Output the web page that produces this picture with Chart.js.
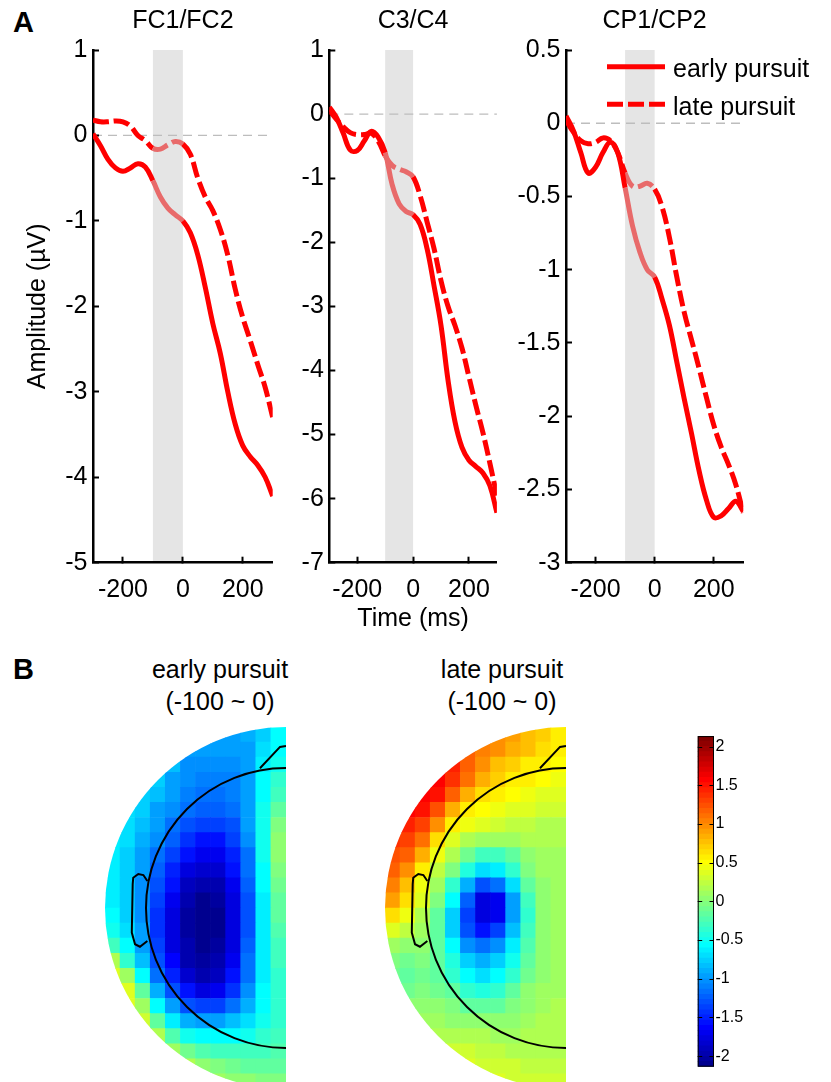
<!DOCTYPE html>
<html><head><meta charset="utf-8">
<script src="https://cdn.jsdelivr.net/npm/chart.js@4.4.1/dist/chart.umd.min.js"></script>
<style>
html,body{margin:0;padding:0;background:#fff;overflow:hidden;width:831px;height:1082px;}
canvas{position:absolute;}
.lbl{position:absolute;font-family:"Liberation Sans",Arial,sans-serif;color:#000;white-space:nowrap;}
.ttl{font-size:25px;line-height:31.7px;text-align:center;width:300px;}
</style></head><body>
<div class="lbl" style="left:13px;top:8px;font-size:29px;font-weight:bold;line-height:29px">A</div>
<div class="lbl" style="left:13px;top:655px;font-size:29px;font-weight:bold;line-height:29px">B</div>
<div class="lbl ttl" style="left:70px;top:654px">early pursuit<br>(-100 ~ 0)</div>
<div class="lbl ttl" style="left:352px;top:654px">late pursuit<br>(-100 ~ 0)</div>
<canvas id="c1" width="290" height="640" style="left:0;top:0"></canvas>
<canvas id="c2" width="220" height="640" style="left:290px;top:0"></canvas>
<canvas id="c3" width="321" height="640" style="left:510px;top:0"></canvas>
<canvas id="m1" width="190" height="375" style="left:100px;top:720px"></canvas>
<canvas id="m2" width="190" height="375" style="left:380px;top:720px"></canvas>
<canvas id="cb" width="141" height="357" style="left:690px;top:725px"></canvas>
<script>
// ---------- DATA ----------
const timeMs = [-300,-275,-250,-225,-200,-175,-150,-125,-100,-75,-50,-25,0,25,50,75,100,125,150,175,200,225,250,275,300];
const fcEarly = [0.02,-0.12,-0.28,-0.38,-0.42,-0.38,-0.33,-0.37,-0.53,-0.72,-0.85,-0.93,-1.0,-1.14,-1.4,-1.78,-2.2,-2.55,-3.0,-3.38,-3.63,-3.76,-3.86,-4.0,-4.22];
const fcLate  = [0.18,0.16,0.16,0.17,0.16,0.11,0.0,-0.06,-0.15,-0.16,-0.11,-0.07,-0.1,-0.22,-0.5,-0.72,-0.88,-1.1,-1.4,-1.8,-2.13,-2.4,-2.68,-2.95,-3.3];
const c3Early = [0.11,-0.05,-0.3,-0.56,-0.57,-0.42,-0.27,-0.36,-0.6,-1.1,-1.4,-1.52,-1.57,-1.72,-2.1,-2.68,-3.3,-4.15,-4.8,-5.2,-5.4,-5.5,-5.6,-5.8,-6.22];
const c3Late  = [0.06,-0.08,-0.2,-0.29,-0.32,-0.32,-0.3,-0.42,-0.65,-0.8,-0.86,-0.9,-0.98,-1.27,-1.68,-2.1,-2.6,-3.0,-3.3,-3.65,-4.1,-4.55,-4.97,-5.45,-5.95];
const cpEarly = [0.05,-0.05,-0.2,-0.34,-0.3,-0.2,-0.13,-0.2,-0.44,-0.7,-0.88,-1.0,-1.05,-1.2,-1.38,-1.63,-1.88,-2.12,-2.37,-2.57,-2.69,-2.68,-2.63,-2.58,-2.65];
const cpLate  = [0.02,-0.06,-0.12,-0.14,-0.13,-0.1,-0.12,-0.2,-0.34,-0.43,-0.43,-0.41,-0.45,-0.57,-0.78,-1.05,-1.29,-1.48,-1.67,-1.87,-2.06,-2.21,-2.33,-2.47,-2.66];
const seriesLabels = ['early pursuit','late pursuit'];
const channelTitles = ['FC1/FC2','C3/C4','CP1/CP2'];
const xTickValues = [-200,0,200];
const xRange = [-300,300];
const bandMs = [-100,0];
const fcY = [-5,1,1], c3Y = [-7,1,1], cpY = [-3,0.5,0.5];   // min, max, step

const N = null;
// topographic maps: 24 rows (top->bottom) x 12 columns (left edge -> midline), µV
const mapEarly = [
[N,N,N,N,N,N,N,-0.95,-0.95,-0.9,-0.75,-0.6],
[N,N,N,N,N,-0.95,-1.0,-1.0,-1.0,-0.95,-0.7,-0.55],
[N,N,N,N,-0.85,-1.05,-1.05,-1.05,-1.05,-1.0,-0.65,-0.5],
[N,N,N,-0.8,-0.95,-1.05,-1.1,-1.1,-1.1,-1.0,-0.6,-0.4],
[N,N,-0.75,-0.85,-1.0,-1.1,-1.15,-1.15,-1.1,-0.95,-0.55,-0.3],
[N,-0.7,-0.8,-0.95,-1.05,-1.2,-1.25,-1.25,-1.15,-0.95,-0.5,-0.15],
[-0.65,-0.72,-0.85,-1.0,-1.15,-1.3,-1.4,-1.4,-1.3,-1.0,-0.5,-0.05],
[-0.65,-0.72,-0.9,-1.05,-1.25,-1.45,-1.55,-1.55,-1.4,-1.05,-0.5,0.0],
[-0.65,-0.75,-0.95,-1.15,-1.35,-1.6,-1.7,-1.7,-1.5,-1.15,-0.5,0.0],
[-0.65,-0.75,-1.0,-1.25,-1.5,-1.75,-1.85,-1.85,-1.6,-1.2,-0.55,-0.05],
[-0.65,-0.75,-1.05,-1.3,-1.6,-1.9,-2.0,-1.95,-1.7,-1.25,-0.6,-0.1],
[-0.65,-0.75,-1.05,-1.4,-1.7,-2.0,-2.1,-2.05,-1.75,-1.3,-0.65,-0.15],
[-0.6,-0.75,-1.05,-1.45,-1.8,-2.05,-2.15,-2.1,-1.8,-1.3,-0.65,-0.2],
[-0.5,-0.7,-1.0,-1.45,-1.8,-2.05,-2.15,-2.1,-1.8,-1.3,-0.65,-0.25],
[-0.3,-0.6,-0.95,-1.4,-1.75,-2.0,-2.1,-2.05,-1.75,-1.25,-0.65,-0.3],
[0.2,-0.35,-0.85,-1.3,-1.65,-1.95,-2.05,-2.0,-1.7,-1.2,-0.65,-0.3],
[0.4,0.1,-0.6,-1.15,-1.5,-1.85,-1.95,-1.9,-1.6,-1.15,-0.65,-0.35],
[N,0.35,-0.2,-0.9,-1.3,-1.6,-1.75,-1.7,-1.45,-1.05,-0.6,-0.35],
[N,0.4,0.1,-0.55,-1.0,-1.3,-1.4,-1.35,-1.2,-0.9,-0.55,-0.35],
[N,N,0.3,-0.2,-0.65,-0.9,-1.0,-0.95,-0.85,-0.7,-0.5,-0.35],
[N,N,N,0.15,-0.25,-0.5,-0.6,-0.6,-0.55,-0.5,-0.4,-0.3],
[N,N,N,N,0.1,-0.1,-0.25,-0.3,-0.3,-0.3,-0.3,-0.25],
[N,N,N,N,N,0.15,0.05,-0.05,-0.1,-0.15,-0.15,-0.15],
[N,N,N,N,N,N,N,0.1,0.05,0.0,-0.05,-0.05]
];
const mapLate = [
[N,N,N,N,N,N,N,1.0,0.9,0.8,0.7,0.6],
[N,N,N,N,N,1.15,1.05,0.95,0.85,0.75,0.65,0.55],
[N,N,N,N,1.45,1.2,0.95,0.8,0.7,0.6,0.55,0.5],
[N,N,N,1.55,1.4,1.1,0.85,0.7,0.6,0.55,0.5,0.45],
[N,N,1.6,1.5,1.2,0.85,0.65,0.55,0.5,0.45,0.4,0.4],
[N,1.55,1.5,1.25,0.85,0.6,0.5,0.45,0.4,0.35,0.3,0.3],
[1.45,1.45,1.3,0.95,0.6,0.45,0.35,0.3,0.25,0.25,0.2,0.2],
[1.35,1.3,1.1,0.65,0.35,0.2,0.1,0.1,0.12,0.15,0.15,0.15],
[1.25,1.15,0.85,0.45,0.15,-0.1,-0.3,-0.3,-0.15,0.05,0.1,0.1],
[1.15,0.95,0.6,0.25,-0.05,-0.45,-0.7,-0.65,-0.4,-0.05,0.08,0.1],
[1.05,0.8,0.45,0.1,-0.35,-0.9,-1.3,-1.2,-0.7,-0.2,0.05,0.1],
[0.9,0.65,0.35,-0.05,-0.6,-1.25,-1.75,-1.7,-0.95,-0.3,0.0,0.1],
[0.65,0.45,0.2,-0.15,-0.75,-1.35,-1.8,-1.7,-1.0,-0.35,0.0,0.08],
[0.35,0.25,0.1,-0.2,-0.75,-1.3,-1.55,-1.4,-0.85,-0.3,0.0,0.08],
[0.1,0.05,0.0,-0.2,-0.6,-1.05,-1.2,-1.05,-0.65,-0.25,0.0,0.08],
[-0.05,-0.1,-0.05,-0.2,-0.45,-0.8,-0.9,-0.8,-0.5,-0.15,0.05,0.1],
[-0.1,-0.15,-0.1,-0.15,-0.35,-0.6,-0.7,-0.6,-0.35,-0.1,0.05,0.1],
[N,-0.1,-0.05,-0.1,-0.2,-0.35,-0.45,-0.35,-0.2,0.0,0.1,0.12],
[N,0.0,0.0,0.0,-0.05,-0.15,-0.2,-0.15,-0.05,0.05,0.12,0.15],
[N,N,0.1,0.1,0.05,0.05,0.0,0.0,0.05,0.1,0.15,0.15],
[N,N,N,0.2,0.2,0.15,0.15,0.12,0.12,0.15,0.15,0.18],
[N,N,N,N,0.3,0.28,0.25,0.22,0.2,0.2,0.2,0.2],
[N,N,N,N,N,0.35,0.32,0.3,0.28,0.25,0.25,0.25],
[N,N,N,N,N,N,N,0.35,0.33,0.3,0.3,0.3]
];
const cbRange = [-2.137, 2.137];
const cbTicks = [-2,-1.5,-1,-0.5,0,0.5,1,1.5,2];
const cbLevels = 64;
// head outline (unit = map radius, centre of head at 0,0)
const headRadius = 0.7735;
const noseOutline = [[-0.144,0.772],[-0.033,0.890],[0,0.895]];
const earOutline = [[-0.766,0.149],[-0.788,0.182],[-0.816,0.188],[-0.844,0.167],[-0.847,0.131],[-0.852,-0.136],[-0.834,-0.2],[-0.807,-0.214],[-0.766,-0.182]];

// ---------- HELPERS ----------
const FONT = '"Liberation Sans", Arial, Helvetica, sans-serif';
Chart.defaults.font.family = FONT;
Chart.defaults.font.size = 25;
Chart.defaults.color = '#000';
const fmt = v => String(Math.round(v*1000)/1000);

function jetRGB(k){ // MATLAB jet(64), 0-based row
  const m = cbLevels, n = Math.ceil(m/4), u = [];
  for (let i=1;i<=n;i++) u.push(i/n);
  for (let i=0;i<n-1;i++) u.push(1);
  for (let i=n;i>=1;i--) u.push(i/n);
  const g0 = Math.ceil(n/2) - (m%4===1?1:0), R = k+1;
  const pick = i => (i>=1 && i<=u.length) ? u[i-1] : 0;
  return [pick(R-g0-n), pick(R-g0), pick(R-g0+n)].map(c=>Math.round(c*255));
}
function levelOf(v){
  let k = Math.floor((v-cbRange[0])/(cbRange[1]-cbRange[0])*cbLevels);
  return Math.max(0, Math.min(cbLevels-1, k));
}
function jetCss(k){ const c = jetRGB(k); return `rgb(${c[0]},${c[1]},${c[2]})`; }

const bandPlugin = {
  id:'band',
  beforeDraw(chart){
    const {ctx, chartArea:a, scales:{x,y}} = chart;
    ctx.save();
    const x0 = x.getPixelForValue(bandMs[0]), x1 = x.getPixelForValue(bandMs[1]);
    ctx.fillStyle = '#e5e5e5';
    ctx.fillRect(x0, a.top, x1-x0, a.bottom-a.top);
    const y0 = y.getPixelForValue(0);
    ctx.strokeStyle = '#bdbdbd'; ctx.lineWidth = 1.3; ctx.setLineDash([9,6]);
    ctx.beginPath(); ctx.moveTo(a.left, y0); ctx.lineTo(a.right, y0); ctx.stroke();
    ctx.restore();
  }
};
const legendPlugin = {
  id:'legendBox',
  afterDraw(chart, args, o){
    if (!o.show) return;
    const ctx = chart.ctx;
    ctx.save();
    chart.data.datasets.forEach((ds,i)=>{
      const ly = o.lineY[i];
      ctx.strokeStyle = ds.borderColor; ctx.lineWidth = ds.borderWidth;
      ctx.setLineDash(ds.borderDash || []);
      ctx.beginPath(); ctx.moveTo(o.x0, ly); ctx.lineTo(o.x1, ly); ctx.stroke();
      ctx.setLineDash([]);
      ctx.fillStyle = '#000'; ctx.font = '25px ' + FONT; ctx.textBaseline = 'alphabetic'; ctx.textAlign='left';
      ctx.fillText(ds.label, o.textX, o.textY[i]);
    });
    ctx.restore();
  }
};

function makeLine(id, o){
  const ds = (label, vals, dash) => ({
    label, data: timeMs.map((t,i)=>({x:t, y:vals[i]})),
    borderColor:'#ff0000', borderWidth:5, borderDash:dash, pointRadius:0, tension:0.4, fill:false,
    segment:{ borderColor: c => (c.p0.parsed.x >= bandMs[0] && c.p1.parsed.x <= bandMs[1]) ? '#e86a6a' : '#ff0000' }
  });
  const gridOpt = {drawOnChartArea:false, tickLength:-6, tickWidth:2, tickColor:'#000'};
  const borderOpt = {display:true, color:'#000', width:2.5};
  return new Chart(document.getElementById(id), {
    type:'line',
    data:{datasets:[ds(seriesLabels[0], o.early, []), ds(seriesLabels[1], o.late, [16,5])]},
    options:{
      responsive:false, animation:false, events:[],
      layout:{padding:{top:0,left:0,bottom:0,right:o.padRight}},
      plugins:{
        legend:{display:false}, tooltip:{enabled:false},
        title:{display:true, text:o.title, fullSize:false, color:'#000', font:{size:25, weight:'normal'}, padding:{top:6.5,bottom:13.5}},
        legendBox:o.legend || {show:false}
      },
      scales:{
        x:{type:'linear', min:xRange[0], max:xRange[1],
           afterBuildTicks:s=>{ s.ticks = xTickValues.map(v=>({value:v})); },
           afterFit:s=>{ s.height = 77.3; },
           ticks:{font:{size:25}, padding:18, color:'#000', maxRotation:0, callback:fmt},
           grid:gridOpt, border:borderOpt,
           title: o.xTitle ? {display:true, text:o.xTitle, color:'#000', font:{size:25}, padding:{top:0,bottom:5.5}} : {display:false}},
        y:{type:'linear', min:o.y[0], max:o.y[1],
           ticks:{stepSize:o.y[2], font:{size:25}, padding:11.5, color:'#000', callback:fmt},
           afterFit:s=>{ s.width = o.yAxisW; },
           grid:gridOpt, border:borderOpt,
           title: o.yTitle ? {display:true, text:o.yTitle, color:'#000', font:{size:25}, padding:{top:23,bottom:0}} : {display:false}}
      }
    },
    plugins:[bandPlugin, legendPlugin]
  });
}

makeLine('c1', {title:channelTitles[0], early:fcEarly, late:fcLate, y:fcY, yAxisW:93, padRight:17.3, yTitle:'Amplitude (µV)'});
makeLine('c2', {title:channelTitles[1], early:c3Early, late:c3Late, y:c3Y, yAxisW:39.3, padRight:1.7, xTitle:'Time (ms)'});
makeLine('c3', {title:channelTitles[2], early:cpEarly, late:cpLate, y:cpY, yAxisW:56, padRight:87.7,
  legend:{show:true, x0:97, x1:155, lineY:[66.7,104.3], textX:163, textY:[77.3,115]}});

// ---------- TOPO MAPS ----------
const topoPlugin = {
  id:'topo',
  beforeDatasetDraw(chart, args){
    if (args.index !== 0) return;
    const {ctx, scales:{x,y}} = chart;
    const cx = x.getPixelForValue(0), cy = y.getPixelForValue(0), r = x.getPixelForValue(1)-cx;
    ctx.save(); ctx.beginPath(); ctx.arc(cx, cy, r, 0, Math.PI*2); ctx.clip();
  },
  afterDatasetDraw(chart, args){ if (args.index === 0) chart.ctx.restore(); },
  afterDatasetsDraw(chart){
    const {ctx, scales:{x,y}} = chart;
    const cx = x.getPixelForValue(0), cy = y.getPixelForValue(0), r = x.getPixelForValue(headRadius)-cx;
    ctx.save(); ctx.strokeStyle='#000'; ctx.lineWidth=2;
    ctx.beginPath(); ctx.arc(cx, cy, r, Math.PI/2, Math.PI*1.5); ctx.stroke();
    ctx.restore();
  }
};
function makeTopo(id, grid){
  const step = 1/grid[0].length;
  const pts = [];
  grid.forEach((row,j)=>row.forEach((v,i)=>{ if (v!==null) pts.push({x:-1+(i+0.5)*step, y:1-(j+0.5)*step, v}); }));
  const rad = c => { const s = c.chart.scales && c.chart.scales.x; return s ? (s.getPixelForValue(step)-s.getPixelForValue(0))*0.74 : 11; };
  const outline = arr => ({data:arr.map(p=>({x:p[0], y:p[1]})), showLine:true, pointRadius:0, borderColor:'#000', borderWidth:2, tension:0, fill:false, order:0});
  return new Chart(document.getElementById(id), {
    type:'scatter',
    data:{datasets:[
      {data:pts, pointStyle:'rect', pointRadius:rad, pointHoverRadius:rad, pointBorderWidth:0, borderWidth:0, order:5,
       backgroundColor: c => c.raw ? jetCss(levelOf(c.raw.v)) : '#fff'},
      outline(noseOutline), outline(earOutline)
    ]},
    options:{responsive:false, animation:false, events:[],
      layout:{padding:{left:5,right:4,top:7,bottom:6}},
      plugins:{legend:{display:false}, tooltip:{enabled:false}},
      scales:{x:{type:'linear', min:-1, max:0, display:false}, y:{type:'linear', min:-1, max:1, display:false}}},
    plugins:[topoPlugin]
  });
}
makeTopo('m1', mapEarly);
makeTopo('m2', mapLate);

// ---------- COLORBAR ----------
const cbStep = (cbRange[1]-cbRange[0])/cbLevels;
const cbFrame = {
  id:'cbFrame',
  afterDraw(chart){
    const {ctx, chartArea:a, scales:{y}} = chart;
    ctx.save(); ctx.strokeStyle='#000'; ctx.lineWidth=1;
    ctx.strokeRect(a.left+0.5, a.top+0.5, a.right-a.left-1, a.bottom-a.top-1);
    cbTicks.forEach(v=>{
      const py = Math.round(y.getPixelForValue(v))+0.5;
      ctx.beginPath(); ctx.moveTo(a.left, py); ctx.lineTo(a.left+4.5, py);
      ctx.moveTo(a.right-4.5, py); ctx.lineTo(a.right, py); ctx.stroke();
    });
    ctx.restore();
  }
};
new Chart(document.getElementById('cb'), {
  type:'bar',
  data:{labels:[''], datasets:Array.from({length:cbLevels}, (_,k)=>({
    data:[[cbRange[0]+k*cbStep, cbRange[0]+(k+1.02)*cbStep]],
    backgroundColor:jetCss(k), borderWidth:0, borderSkipped:false,
    barPercentage:1, categoryPercentage:1, grouped:false
  }))},
  options:{responsive:false, animation:false, events:[],
    layout:{padding:{left:7.7, right:0, top:8.3, bottom:15.3}},
    plugins:{legend:{display:false}, tooltip:{enabled:false}},
    scales:{
      x:{display:false},
      y:{position:'right', min:cbRange[0], max:cbRange[1],
         afterBuildTicks:s=>{ s.ticks = cbTicks.map(v=>({value:v})); },
         afterFit:s=>{ s.width = 117; },
         ticks:{font:{size:16}, padding:1.5, color:'#000', callback:fmt},
         grid:{display:false, drawTicks:false}, border:{display:false}}
    }},
  plugins:[cbFrame]
});
</script>
</body></html>
